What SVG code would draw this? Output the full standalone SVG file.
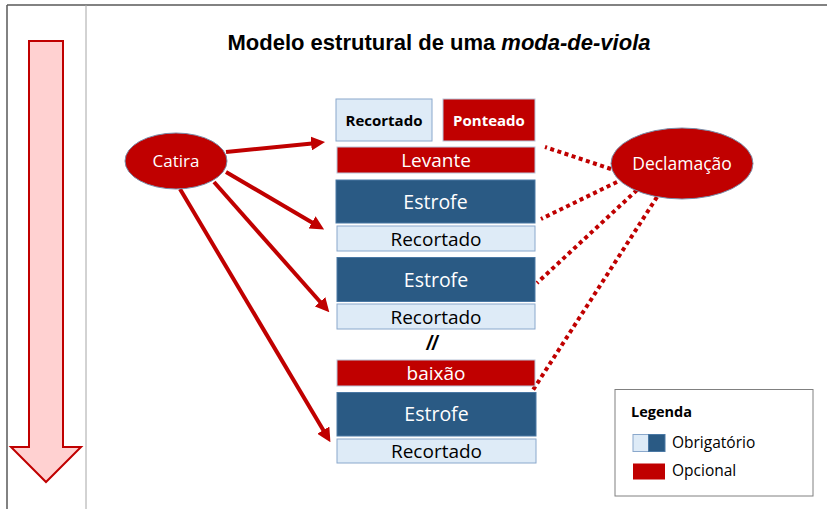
<svg xmlns="http://www.w3.org/2000/svg" width="827" height="509" viewBox="0 0 827 509">
<defs>
<marker id="ah" markerUnits="userSpaceOnUse" viewBox="0 0 14 14" refX="1" refY="7" markerWidth="14" markerHeight="14" orient="auto">
<path d="M0,0 L14,7 L0,14 z" fill="#C00000"/>
</marker>
<style>
.lt{fill:#DEEBF7;stroke:#8AA8CC;stroke-width:1}
.dk{fill:#2A5A84;stroke:#4A78A4;stroke-width:1}
.rd{fill:#C00000;stroke:#B8C4D8;stroke-width:1}
.t{font-family:"Open Sans","Noto Sans",sans-serif;text-anchor:middle}
.w{fill:#FFFFFF}
.k{fill:#000000}
.sol{stroke:#C00000;stroke-width:4;fill:none}
.dot{stroke:#C00000;stroke-width:4;fill:none;stroke-dasharray:4 3.5}
.lg{font-family:"Open Sans","Noto Sans",sans-serif;fill:#000000}
</style>
</defs>
<rect width="827" height="509" fill="#FFFFFF"/>
<g id="frame">
<line x1="7" y1="5" x2="827" y2="5" stroke="#595959" stroke-width="1.5"/>
<line x1="7" y1="5" x2="7" y2="509" stroke="#595959" stroke-width="1.5"/>
<line x1="86" y1="5" x2="86" y2="509" stroke="#A6A6A6" stroke-width="1"/>
</g>
<g id="time-arrow">
<polygon points="29,41 63,41 63,447 81,447 46,482 11,447 29,447" fill="#FFD1D1" stroke="#C00000" stroke-width="2"/>
</g>
<g id="title">
<text x="439" y="50" font-family="'Liberation Sans',Arial,sans-serif" font-weight="bold" font-size="22" text-anchor="middle" fill="#000">Modelo estrutural de uma <tspan font-style="italic">moda-de-viola</tspan></text>
</g>
<g id="connectors">
<line class="sol" x1="226" y1="152" x2="312.1" y2="143.4" marker-end="url(#ah)"/>
<line class="sol" x1="226" y1="172" x2="312.9" y2="222.9" marker-end="url(#ah)"/>
<line class="sol" x1="214" y1="182" x2="320.7" y2="302.5" marker-end="url(#ah)"/>
<line class="sol" x1="180" y1="189" x2="323.8" y2="431" marker-end="url(#ah)"/>
<line class="dot" x1="611" y1="169" x2="545" y2="147"/>
<line class="dot" x1="617" y1="182" x2="541" y2="219"/>
<line class="dot" x1="637" y1="190" x2="537" y2="283"/>
<line class="dot" x1="657" y1="197" x2="533" y2="390"/>
</g>
<g id="catira">
<ellipse cx="176" cy="161" rx="51" ry="28" fill="#C00000" stroke="#7A8CA8" stroke-width="1"/>
<text class="t w" x="176" y="167" font-size="17">Catira</text>
</g>
<g id="declamacao">
<ellipse cx="682" cy="163.5" rx="71" ry="35.5" fill="#C00000" stroke="#7A8CA8" stroke-width="1"/>
<text class="t w" x="682" y="169.5" font-size="17.5">Declamação</text>
</g>
<g id="recortado-top">
<rect class="lt" x="336" y="99" width="96" height="42"/>
<text class="t k" x="384" y="125.5" font-size="15" font-weight="bold">Recortado</text>
</g>
<g id="ponteado">
<rect class="rd" x="443" y="99" width="92" height="42"/>
<text class="t w" x="489" y="125.5" font-size="15" font-weight="bold">Ponteado</text>
</g>
<g id="levante">
<rect class="rd" x="337" y="147" width="198" height="26"/>
<text class="t w" x="436" y="167" font-size="19">Levante</text>
</g>
<g id="estrofe1">
<rect class="dk" x="336" y="180" width="199" height="43"/>
<text class="t w" x="435.5" y="208.5" font-size="19.5">Estrofe</text>
</g>
<g id="recortado1">
<rect class="lt" x="337" y="226" width="198" height="25"/>
<text class="t k" x="436" y="245.5" font-size="19">Recortado</text>
</g>
<g id="estrofe2">
<rect class="dk" x="337" y="257.5" width="198" height="44"/>
<text class="t w" x="436" y="286.5" font-size="19.5">Estrofe</text>
</g>
<g id="recortado2">
<rect class="lt" x="337" y="304" width="198" height="25"/>
<text class="t k" x="436" y="323.5" font-size="19">Recortado</text>
</g>
<g id="break">
<text x="432" y="350" font-family="'Liberation Sans',Arial,sans-serif" font-weight="bold" font-style="italic" font-size="20" text-anchor="middle" fill="#000">//</text>
</g>
<g id="baixao">
<rect class="rd" x="337" y="360" width="198" height="26"/>
<text class="t w" x="436" y="380" font-size="19">baixão</text>
</g>
<g id="estrofe3">
<rect class="dk" x="337" y="392.5" width="199" height="43.5"/>
<text class="t w" x="436.5" y="421" font-size="19.5">Estrofe</text>
</g>
<g id="recortado3">
<rect class="lt" x="337" y="439" width="199" height="24"/>
<text class="t k" x="436.5" y="458" font-size="19">Recortado</text>
</g>
<g id="legend">
<rect x="615" y="389.5" width="198" height="106.5" fill="#FFFFFF" stroke="#808080" stroke-width="1"/>
<text class="lg" x="631" y="417" font-weight="bold" font-size="14.5">Legenda</text>
<rect x="633" y="434.5" width="15.5" height="17" fill="#DEEBF7" stroke="#8AA8CC" stroke-width="1"/>
<rect x="648.5" y="434.5" width="16.5" height="17" fill="#2A5A84" stroke="#4A78A4" stroke-width="1"/>
<text class="lg" x="672" y="448" font-size="15.5">Obrigatório</text>
<rect x="633" y="463.5" width="32" height="16" fill="#C00000"/>
<text class="lg" x="672" y="476" font-size="15.5">Opcional</text>
</g>
</svg>
